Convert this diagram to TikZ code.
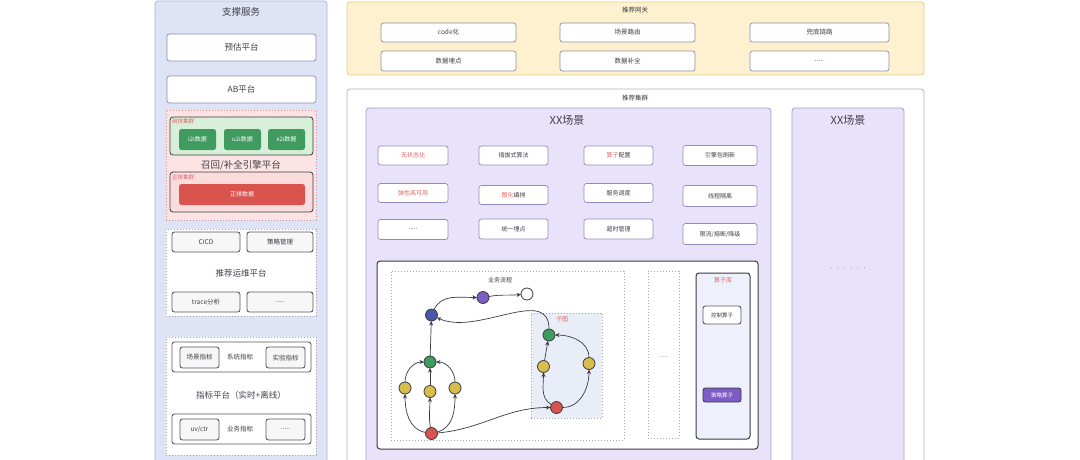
\documentclass[tikz,border=0pt]{standalone}
\usepackage{fontspec}
\setmainfont{Noto Sans CJK SC}
\newfontfamily\dotfont{Liberation Sans}
\usetikzlibrary{arrows.meta}

\definecolor{txt}{HTML}{404048}
\definecolor{supfill}{HTML}{DFE3F6}
\definecolor{supline}{HTML}{A7AEDE}
\definecolor{gwfill}{HTML}{FDF1CF}
\definecolor{gwline}{HTML}{EACB85}
\definecolor{scfill}{HTML}{E8E3FB}
\definecolor{scline}{HTML}{A59CCC}
\definecolor{cardline}{HTML}{8C90A8}
\definecolor{recfill}{HTML}{FDE4E4}
\definecolor{recline}{HTML}{E58C8C}
\definecolor{invfill}{HTML}{D8F0D8}
\definecolor{fwdfill}{HTML}{FBDCDC}
\definecolor{okgreen}{HTML}{3F9B5F}
\definecolor{errred}{HTML}{D9534F}
\definecolor{tagred}{HTML}{E06666}
\definecolor{dark}{HTML}{3A3A44}
\definecolor{subfill}{HTML}{E9EDF8}
\definecolor{libfill}{HTML}{EEF0FB}
\definecolor{indigo}{HTML}{4A56A6}
\definecolor{violet}{HTML}{7D5CC6}
\definecolor{mustard}{HTML}{D6BD4C}

\begin{document}
\begin{tikzpicture}[x=1pt, y=-1pt,
  every node/.style={inner sep=0pt, outer sep=0pt, text=txt},
  panel/.style={rounded corners=3pt, line width=0.8pt, anchor=north west},
  dotbox/.style={draw=gray!70, dotted, line width=1pt, anchor=north west},
  title/.style={font=\fontsize{9.5}{10}\selectfont},
  small/.style={font=\fontsize{6.5}{7}\selectfont},
  tag/.style={font=\fontsize{5.5}{6}\selectfont, text=tagred},
  card/.style={draw=cardline, fill=white, rounded corners=2.5pt, line width=0.7pt, font=\fontsize{8.5}{9}\selectfont},
  chip/.style={draw=dark!85, fill=gray!6, rounded corners=2.5pt, line width=0.9pt, font=\fontsize{6.5}{7}\selectfont},
  feat/.style={draw=scline!90!black, fill=white, rounded corners=2.5pt, line width=0.7pt, font=\fontsize{6}{7}\selectfont},
  data/.style={rounded corners=2.5pt, text=white, font=\fontsize{6}{7}\selectfont},
  dot/.style={circle, draw=dark, line width=0.8pt, minimum size=12pt},
  flow/.style={-{Stealth[length=4.5pt,width=4pt]}, line width=0.7pt, draw=dark}
]
\useasboundingbox (0,0) rectangle (1080,459);

% support services
\node[panel, draw=supline, fill=supfill, minimum width=172pt, minimum height=470pt] (support) at (155,1) {};
\node[title] (supportT) at (241,12) {支撑服务};
\node[card, minimum width=149pt, minimum height=27pt] (predict) at (241.5,47.5) {预估平台};
\node[card, minimum width=149pt, minimum height=27pt] (abtest) at (241.5,89.5) {AB平台};

\node[dotbox, draw=recline, fill=recfill, minimum width=150pt, minimum height=110pt] (recall) at (166,110) {};
\node[panel, draw=dark, fill=invfill, minimum width=143pt, minimum height=38pt, anchor=center] (inv) at (241.5,136) {};
\node[tag, anchor=west] (invT) at (172,121.5) {倒排集群};
\node[data, fill=okgreen, minimum width=37pt, minimum height=21pt] (i2i) at (197.5,139.5) {i2i数据};
\node[data, fill=okgreen, minimum width=37pt, minimum height=21pt] (u2i) at (242.5,139.5) {u2i数据};
\node[data, fill=okgreen, minimum width=37pt, minimum height=21pt] (x2i) at (286.5,139.5) {x2i数据};
\node[title] (recallT) at (241,165) {召回/补全引擎平台};
\node[panel, draw=dark, fill=fwdfill, minimum width=143pt, minimum height=40pt, anchor=center] (fwd) at (241.5,192) {};
\node[tag, anchor=west] (fwdT) at (172,177.5) {正排集群};
\node[data, fill=errred, minimum width=126pt, minimum height=21pt] (fwddata) at (242,194.5) {正排数据};

\node[dotbox, fill=white, minimum width=150pt, minimum height=87pt] (ops) at (166,229) {};
\node[chip, minimum width=68pt, minimum height=20pt] (cicd) at (206,242) {CICD};
\node[chip, minimum width=66pt, minimum height=20pt] (policy) at (280,242) {策略管理};
\node[title, font=\fontsize{8.5}{9}\selectfont] (opsT) at (241,273) {推荐运维平台};
\node[chip, minimum width=68pt, minimum height=20pt] (trace) at (206,302) {trace分析};
\node[chip, minimum width=66pt, minimum height=20pt] (opsmore) at (280,302) {\dotfont .....};

\node[dotbox, fill=white, minimum width=150pt, minimum height=118pt] (metric) at (166,337) {};
\node[chip, fill=white, minimum width=139pt, minimum height=30pt] (rowA) at (241.5,357) {};
\node[chip, minimum width=39pt, minimum height=21pt] (scene) at (199.5,357.5) {场景指标};
\node[small] (sys) at (240,357.5) {系统指标};
\node[chip, minimum width=39pt, minimum height=21pt] (expt) at (285.5,357.5) {实验指标};
\node[title, font=\fontsize{8.5}{9}\selectfont] (metricT) at (241,395) {指标平台（实时+离线）};
\node[chip, fill=white, minimum width=139pt, minimum height=30pt] (rowB) at (241.5,429) {};
\node[chip, minimum width=39pt, minimum height=21pt] (uvctr) at (199.5,429.5) {uv/ctr};
\node[small] (biz) at (240,429.5) {业务指标};
\node[chip, minimum width=39pt, minimum height=21pt] (bizmore) at (285.5,429.5) {\dotfont .....};

% gateway
\node[panel, draw=gwline, fill=gwfill, minimum width=577pt, minimum height=73pt] (gateway) at (347,2) {};
\node[small] (gatewayT) at (635,10) {推荐网关};
\node[card, font=\fontsize{6.5}{7}\selectfont, minimum width=135pt, minimum height=19pt] (codify) at (448.5,32.5) {code化};
\node[card, font=\fontsize{6.5}{7}\selectfont, minimum width=135pt, minimum height=19pt] (route) at (627.5,32.5) {场景路由};
\node[card, font=\fontsize{6.5}{7}\selectfont, minimum width=139pt, minimum height=19pt] (fallback) at (819.5,32.5) {兜底链路};
\node[card, font=\fontsize{6.5}{7}\selectfont, minimum width=135pt, minimum height=20pt] (track) at (448.5,61) {数据埋点};
\node[card, font=\fontsize{6.5}{7}\selectfont, minimum width=135pt, minimum height=20pt] (fill) at (627.5,61) {数据补全};
\node[card, font=\fontsize{6.5}{7}\selectfont, minimum width=139pt, minimum height=20pt] (gwmore) at (819.5,61) {\dotfont .....};

% cluster
\node[panel, draw=gray!60, fill=white, minimum width=577pt, minimum height=380pt] (cluster) at (347,89) {};
\node[small] (clusterT) at (635,98) {推荐集群};
\node[panel, draw=scline, fill=scfill, minimum width=405pt, minimum height=360pt] (sceneA) at (366,108) {};
\node[title, font=\fontsize{11}{12}\selectfont] (sceneAT) at (567,120) {XX场景};
\node[panel, draw=scline, fill=scfill, minimum width=112pt, minimum height=360pt] (sceneB) at (792,108) {};
\node[title, font=\fontsize{11}{12}\selectfont] (sceneBT) at (848,120) {XX场景};
\node[text=gray, font=\dotfont\fontsize{8}{9}\selectfont] (sceneBmore) at (848,268) {.\ \ .\ \ .\ \ .\ \ .\ \ .};

\node[feat, minimum width=70pt, minimum height=19pt, text=tagred] (stateless) at (413,155.5) {无状态化};
\node[feat, minimum width=69pt, minimum height=19pt] (plugin) at (513.5,155.5) {插拔式算法};
\node[feat, minimum width=69pt, minimum height=19pt] (opconf) at (618.5,155.5) {\textcolor{tagred}{算子}配置};
\node[feat, minimum width=74pt, minimum height=20pt] (reload) at (720,155.5) {引擎包刷新};
\node[feat, minimum width=70pt, minimum height=19pt, text=tagred] (elastic) at (413,193) {弹性高可用};
\node[feat, minimum width=69pt, minimum height=19pt] (graphify) at (513.5,195) {\textcolor{tagred}{图化}编排};
\node[feat, minimum width=69pt, minimum height=19pt] (sched) at (618.5,193) {服务调度};
\node[feat, minimum width=74pt, minimum height=21pt] (isolate) at (720,196) {线程隔离};
\node[feat, minimum width=70pt, minimum height=20pt] (featmore) at (413,229.5) {\dotfont .....};
\node[feat, minimum width=69pt, minimum height=20pt] (unitrack) at (513.5,229) {统一埋点};
\node[feat, minimum width=69pt, minimum height=20pt] (timeout) at (618.5,229) {超时管理};
\node[feat, minimum width=74pt, minimum height=21pt] (limit) at (720,234) {限流/熔断/降级};

% execution graph
\node[panel, draw=dark, fill=white, line width=1pt, minimum width=381pt, minimum height=188pt] (engine) at (377,261) {};
\node[dotbox, minimum width=233pt, minimum height=169pt] (bizflow) at (391,271) {};
\node[small, font=\fontsize{6}{7}\selectfont] (bizflowT) at (500,280) {业务流程};
\node[dotbox, fill=subfill, minimum width=71pt, minimum height=105pt] (subgraph) at (531,313) {};
\node[tag, font=\fontsize{6}{7}\selectfont] (subgraphT) at (562,319) {子图};
\node[dotbox, minimum width=31pt, minimum height=167pt] (moreflow) at (648,271) {};
\node[small, text=gray] (moreflowT) at (663.5,357) {\dotfont .....};
\node[panel, draw=dark, fill=libfill, line width=1pt, minimum width=54pt, minimum height=166pt] (oplib) at (696,273) {};
\node[tag, font=\fontsize{6}{7}\selectfont] (oplibT) at (723,280) {算子库};
\node[chip, fill=white, minimum width=38pt, minimum height=18pt, font=\fontsize{5.5}{6}\selectfont] (ctrlop) at (722,315) {控制算子};
\node[data, fill=violet, draw=dark, line width=0.9pt, minimum width=38pt, minimum height=14pt, font=\fontsize{5.5}{6}\selectfont] (stratop) at (722,395) {策略算子};

\node[dot, fill=indigo] (hub) at (431.5,315) {};
\node[dot, fill=violet] (next) at (483,297.5) {};
\node[dot, fill=white] (done) at (527,294) {};
\node[dot, fill=okgreen] (merge) at (430,362) {};
\node[dot, fill=mustard] (left) at (405,388) {};
\node[dot, fill=mustard] (mid) at (430,391.5) {};
\node[dot, fill=mustard] (right) at (455,388) {};
\node[dot, fill=errred] (start) at (431.5,433.5) {};
\node[dot, fill=okgreen] (submerge) at (549,335) {};
\node[dot, fill=mustard] (subleft) at (543.5,366.5) {};
\node[dot, fill=mustard] (subright) at (589,363.5) {};
\node[dot, fill=errred] (substart) at (556.5,407.5) {};

\draw[flow] (hub) to[out=65, in=180] (next);
\draw[flow] (next) to[out=10, in=185] (done);
\draw[flow] (merge) -- (hub);
\draw[flow] (left) to[out=90, in=180] (merge);
\draw[flow] (mid) -- (merge);
\draw[flow] (right) to[out=90, in=0] (merge);
\draw[flow] (start) to[out=170, in=270] (left);
\draw[flow] (start) to[out=100, in=270] (mid);
\draw[flow] (start) to[out=15, in=270] (right);
\draw[flow] (start) to[out=5, in=180] (substart);
\draw[flow] (substart) to[out=150, in=270] (subleft);
\draw[flow] (substart) to[out=0, in=270] (subright);
\draw[flow] (subleft) -- (submerge);
\draw[flow] (subright) to[out=90, in=0] (submerge);
\draw[flow] (submerge) to[out=90, in=-25] (hub);

\end{tikzpicture}
\end{document}
